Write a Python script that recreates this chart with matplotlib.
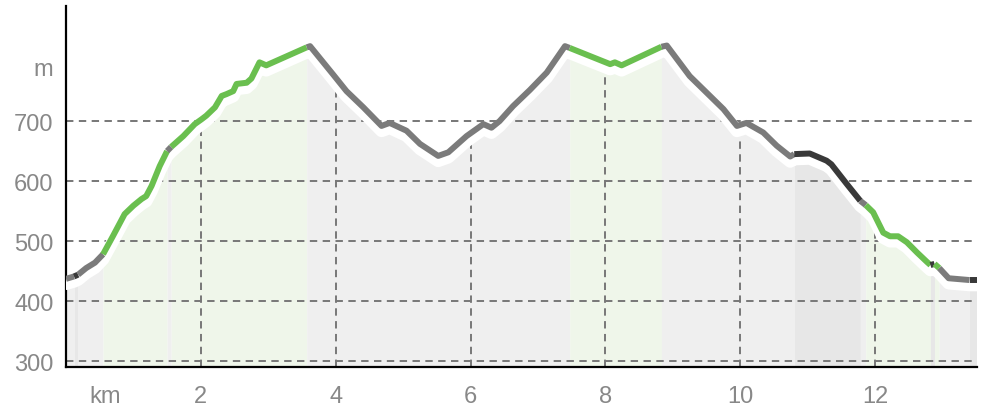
import matplotlib.pyplot as plt
from matplotlib import transforms

# elevation profile: distance (km), elevation (m), surface of the stretch that starts at each point
dist = [0.00, 0.12, 0.18, 0.30, 0.43, 0.55, 0.70, 0.87, 1.00, 1.12, 1.19, 1.27, 1.39,
        1.50, 1.56, 1.74, 1.91, 2.01, 2.08, 2.21, 2.31, 2.38, 2.48, 2.53, 2.68, 2.75,
        2.87, 2.97, 3.57, 3.62, 3.96, 4.16, 4.41, 4.68, 4.80, 5.05, 5.25, 5.52, 5.67,
        5.94, 6.19, 6.31, 6.43, 6.63, 6.88, 7.13, 7.40, 7.47, 8.07, 8.14, 8.24, 8.83,
        8.91, 9.25, 9.55, 9.75, 9.95, 10.09, 10.34, 10.54, 10.74, 10.80, 11.03, 11.28,
        11.35, 11.58, 11.78, 11.86, 11.97, 12.12, 12.22, 12.34, 12.47, 12.62, 12.77,
        12.82, 12.88, 12.95, 13.09, 13.40, 13.51]
elev = [437, 441, 444, 455, 464, 478, 509, 545, 559, 570, 575, 592, 625,
        650, 657, 675, 695, 703, 709, 723, 742, 745, 750, 762, 764, 771,
        798, 793, 823, 825, 778, 750, 723, 692, 697, 684, 662, 642, 648,
        675, 695, 689, 700, 725, 752, 781, 825, 822, 795, 798, 793, 824,
        826, 775, 742, 720, 692, 697, 681, 659, 641, 645, 646, 634,
        628, 595, 567, 560, 548, 514, 508, 508, 498, 481, 465,
        460, 462, 455, 438, 435, 435]
surface = ['p', 'd', 'p', 'p', 'p', 'g', 'g', 'g', 'g', 'g', 'g', 'g', 'g',
           'p', 'g', 'g', 'g', 'g', 'g', 'g', 'g', 'g', 'g', 'g', 'g', 'g',
           'g', 'g', 'p', 'p', 'p', 'p', 'p', 'p', 'p', 'p', 'p', 'p', 'p',
           'p', 'p', 'p', 'p', 'p', 'p', 'p', 'p', 'g', 'g', 'g', 'g', 'p',
           'p', 'p', 'p', 'p', 'p', 'p', 'p', 'p', 'p', 'd', 'd', 'd',
           'd', 'd', 'p', 'g', 'g', 'g', 'g', 'g', 'g', 'g', 'g',
           'd', 'g', 'p', 'p', 'd']

x_ticks = [0.58, 2, 4, 6, 8, 10, 12]
x_labels = ['km', '2', '4', '6', '8', '10', '12']
y_ticks = [300, 400, 500, 600, 700, 791]
y_labels = ['300', '400', '500', '600', '700', 'm']

line_col = {'p': '#7b7b7b', 'g': '#6abf4f', 'd': '#393939'}
fill_col = {'p': '#efefef', 'g': '#eff6ea', 'd': '#e7e7e7'}

plt.rcParams['font.family'] = ['Liberation Sans', 'DejaVu Sans']

fig = plt.figure(figsize=(9.83, 4.10), dpi=100)
ax = fig.add_axes([0.0671, 0.1024, 0.9268, 0.8806])
ybot = 290

# group consecutive stretches with the same surface
runs = []
start = 0
for i in range(1, len(surface) + 1):
    if i == len(surface) or surface[i] != surface[start]:
        runs.append((start, i, surface[start]))
        start = i

for a, b, s in runs:
    ax.fill_between(dist[a:b + 1], elev[a:b + 1], ybot, color=fill_col[s], lw=0, zorder=1)

# horizontal grid
for v in y_ticks[:-1]:
    ax.axhline(v, color='#777777', lw=1.4, ls=(0, (3.8, 2.8)), zorder=1.5)

# vertical grid only under the profile
area = ax.fill_between(dist, elev, ybot, color='none', lw=0)
clip = area.get_paths()[0]
for v in x_ticks[1:]:
    ln = ax.axvline(v, color='#777777', lw=1.4, ls=(0, (3.8, 2.8)), zorder=1.5)
    ln.set_clip_path(clip, ax.transData)

# white halo under the line
shift = transforms.offset_copy(ax.transData, fig=fig, x=0, y=-5, units='dots')
ax.plot(dist, elev, color='white', lw=9, transform=shift, zorder=3,
        solid_joinstyle='round', solid_capstyle='round')

for a, b, s in runs:
    ax.plot(dist[a:b + 1], elev[a:b + 1], color=line_col[s], lw=4.3, zorder=4,
            solid_joinstyle='round', solid_capstyle='butt')

ax.set_xlim(0, 13.51)
ax.set_ylim(ybot, 892)
ax.set_xticks(x_ticks, x_labels)
ax.set_yticks(y_ticks, y_labels)
ax.tick_params(length=0, labelsize=17, colors='#888888')
ax.tick_params(axis='x', pad=13)
ax.tick_params(axis='y', pad=9)
for side in ['top', 'right']:
    ax.spines[side].set_visible(False)
for side in ['left', 'bottom']:
    ax.spines[side].set_color('black')
    ax.spines[side].set_linewidth(1.6)
    ax.spines[side].set_zorder(2)

fig.savefig('out.png', dpi=100)
